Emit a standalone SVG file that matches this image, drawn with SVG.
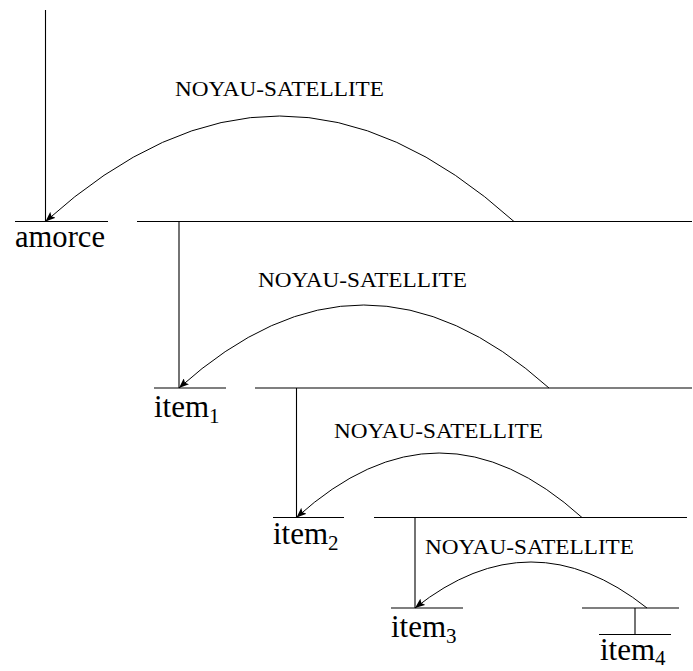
<svg xmlns="http://www.w3.org/2000/svg" width="693" height="671" viewBox="0 0 693 671">
<style>
.ln{stroke:#000;stroke-width:1.1;fill:none}
.arc{stroke:#000;stroke-width:1;fill:none;marker-end:url(#ah)}
.lbl{font-family:"Liberation Serif","DejaVu Serif",serif;font-size:22px;fill:#000}
.w{font-family:"Liberation Serif","DejaVu Serif",serif;font-size:31px;fill:#000}
.sub{font-size:21px}
</style>
<defs>
<marker id="ah" viewBox="0 0 10 8" refX="10" refY="4" markerWidth="10" markerHeight="8" markerUnits="userSpaceOnUse" orient="auto">
<path d="M0,0 L10,4 L0,8 L2,4 Z" fill="#000"/>
</marker>
</defs>
<rect width="693" height="671" fill="#fff"/>
<g id="tree">
<line class="ln" x1="45.5" y1="10" x2="45.5" y2="221.5"/>
<line class="ln" x1="179" y1="221.5" x2="179" y2="388"/>
<line class="ln" x1="296.5" y1="388" x2="296.5" y2="517.5"/>
<line class="ln" x1="415" y1="517.5" x2="415" y2="608"/>
<line class="ln" x1="635" y1="608" x2="635" y2="634.5"/>
</g>
<g id="n-amorce">
<line class="ln" x1="15" y1="221.5" x2="108" y2="221.5"/>
<text class="w" x="15" y="246.5" textLength="90" lengthAdjust="spacingAndGlyphs">amorce</text>
</g>
<g id="n-span1">
<line class="ln" x1="137" y1="221.5" x2="692" y2="221.5"/>
</g>
<g id="n-item1">
<line class="ln" x1="154" y1="388" x2="226" y2="388"/>
<text class="w" x="154" y="416.5">item<tspan class="sub" dy="6">1</tspan></text>
</g>
<g id="n-span2">
<line class="ln" x1="255" y1="388" x2="692" y2="388"/>
</g>
<g id="n-item2">
<line class="ln" x1="273" y1="517.5" x2="344" y2="517.5"/>
<text class="w" x="273" y="544">item<tspan class="sub" dy="6">2</tspan></text>
</g>
<g id="n-span3">
<line class="ln" x1="374" y1="517.5" x2="687" y2="517.5"/>
</g>
<g id="n-item3">
<line class="ln" x1="391" y1="608" x2="463" y2="608"/>
<text class="w" x="391" y="636.5">item<tspan class="sub" dy="6">3</tspan></text>
</g>
<g id="n-span4">
<line class="ln" x1="582" y1="608" x2="679" y2="608"/>
</g>
<g id="n-item4">
<line class="ln" x1="599" y1="634.5" x2="671" y2="634.5"/>
<text class="w" x="600" y="660">item<tspan class="sub" dy="5">4</tspan></text>
</g>
<g id="connectors">
<path class="arc" d="M514,221.5 Q279.5,10.5 45.5,221.5"/>
<text class="lbl" x="175" y="96" textLength="209" lengthAdjust="spacingAndGlyphs">NOYAU-SATELLITE</text>
<path class="arc" d="M549,388 Q363.5,222 179,388"/>
<text class="lbl" x="258" y="287" textLength="209" lengthAdjust="spacingAndGlyphs">NOYAU-SATELLITE</text>
<path class="arc" d="M582,517.5 Q439,388.5 296.5,517.5"/>
<text class="lbl" x="334" y="438" textLength="209" lengthAdjust="spacingAndGlyphs">NOYAU-SATELLITE</text>
<path class="arc" d="M647,608 Q531,516 415,608"/>
<text class="lbl" x="425" y="554" textLength="209" lengthAdjust="spacingAndGlyphs">NOYAU-SATELLITE</text>
</g>
</svg>
